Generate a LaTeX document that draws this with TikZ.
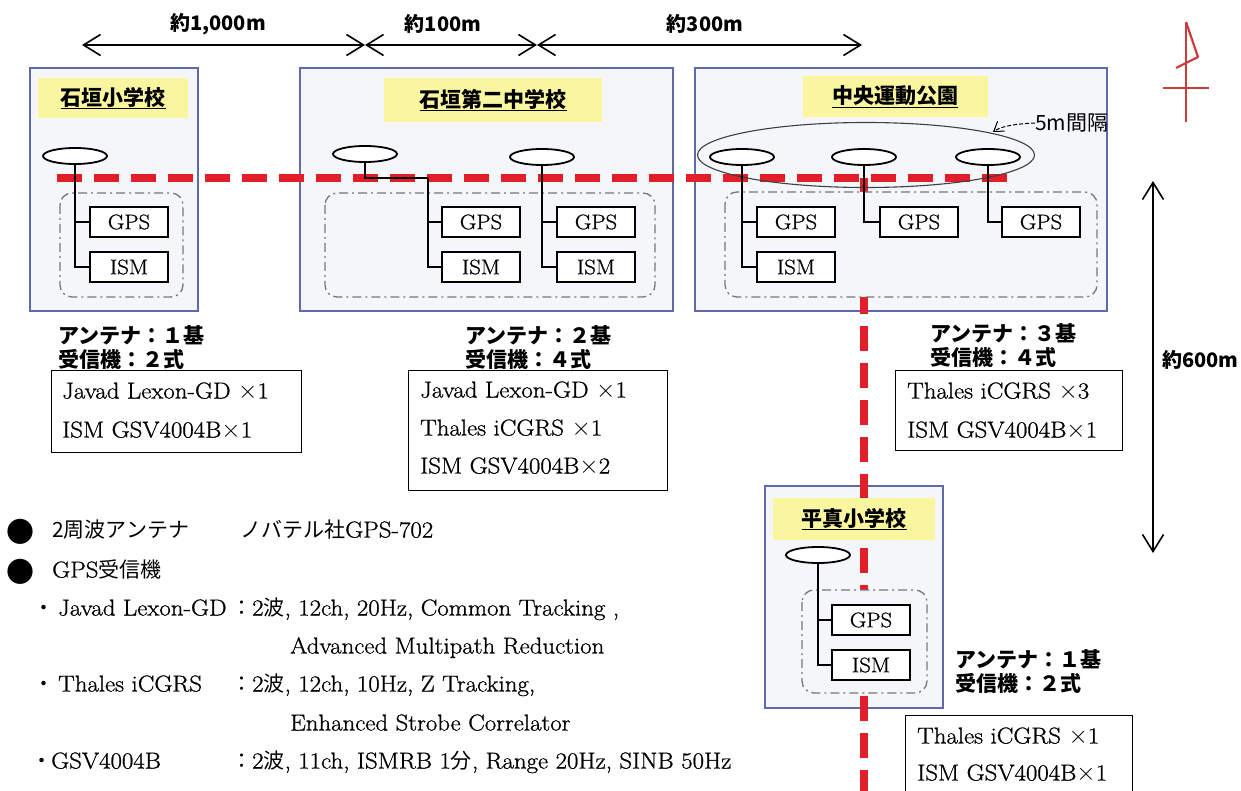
\documentclass[tikz,border=0pt]{standalone}
\usepackage{fontspec}
\setmainfont{Latin Modern Roman}[FakeStretch=1.08,FakeBold=0.9]
\newfontfamily\jp{Noto Sans CJK JP}
\usetikzlibrary{shapes.geometric,arrows.meta}
\definecolor{sitefill}{RGB}{244,246,250}
\definecolor{siteline}{RGB}{96,106,170}
\definecolor{labelyel}{RGB}{250,246,160}
\definecolor{routered}{RGB}{226,30,40}
\definecolor{northred}{RGB}{205,60,60}
\definecolor{ddgray}{RGB}{120,120,120}
\begin{document}
\begin{tikzpicture}[x=1pt,y=-1pt,
  sitebox/.style={draw=siteline,line width=1.4pt,fill=sitefill},
  titlebox/.style={fill=labelyel,inner sep=0pt,font=\jp\bfseries\fontsize{21}{24}\selectfont},
  ddbox/.style={draw=ddgray,line width=1.3pt,dash pattern=on 9pt off 4pt on 2pt off 4pt,rounded corners=12pt,fill=sitefill},
  antenna/.style={ellipse,draw,line width=1.8pt,fill=white,minimum width=64pt,minimum height=16pt,inner sep=0pt},
  rxbox/.style={draw,line width=2pt,fill=white,minimum width=78pt,minimum height=30pt,inner sep=0pt,font=\fontsize{21}{24}\selectfont},
  wire/.style={line width=1.8pt},
  reddash/.style={draw=routered,line width=7.5pt,dash pattern=on 25pt off 12pt},
  distarrow/.style={line width=1.6pt,{Straight Barb[length=17pt,width=21pt]}-{Straight Barb[length=17pt,width=21pt]}},
  distlbl/.style={font=\jp\bfseries\fontsize{20}{24}\selectfont,inner sep=0pt},
  infolbl/.style={font=\jp\bfseries\fontsize{21}{24}\selectfont,align=left,anchor=west,inner sep=0pt},
  tablebox/.style={draw,line width=1pt,fill=white},
  tabletxt/.style={anchor=west,inner sep=0pt,font=\fontsize{23}{26}\selectfont,text height=16pt,text depth=5pt},
  legtxt/.style={anchor=west,inner sep=0pt,font=\fontsize{23}{26}\selectfont,text height=16pt,text depth=5pt},
  legjp/.style={anchor=west,inner sep=0pt,font=\jp\fontsize{21}{26}\selectfont,text height=16pt,text depth=5pt},
  legbullet/.style={inner sep=0pt,font=\jp\fontsize{28}{30}\selectfont},
  northline/.style={draw=northred,line width=2.2pt}
]
\useasboundingbox (0,0) rectangle (1241,791);
\clip (0,0) rectangle (1241,791);
\fill[white] (0,0) rectangle (1241,791);

% site boxes
\draw[sitebox] (30,68) rectangle (198,311);
\draw[sitebox] (300,68) rectangle (673,311);
\draw[sitebox] (695,68) rectangle (1107,311);
\draw[sitebox] (765,486) rectangle (943,708);

% red route
\coordinate (r0) at (57,178);
\coordinate (r1) at (1015,178);
\coordinate (rj) at (864,178);
\coordinate (rb) at (864,800);
\draw[reddash] (r0) -- (r1);
\draw[reddash] (rj) -- (rb);

% titles
\node[titlebox,minimum width=150pt,minimum height=40pt] (t1) at (113,98) {\underline{石垣小学校}};
\node[titlebox,minimum width=218pt,minimum height=44pt] (t2) at (493,100) {\underline{石垣第二中学校}};
\node[titlebox,minimum width=185pt,minimum height=41pt] (t3) at (895,97) {\underline{中央運動公園}};
\node[titlebox,minimum width=162pt,minimum height=42pt] (t4) at (854,519) {\underline{平真小学校}};

% dash-dot groups
\draw[ddbox] (60,193) rectangle (183,297);
\draw[ddbox] (325,193) rectangle (655,297);
\draw[ddbox] (725,192) rectangle (1097,297);
\draw[ddbox] (802,590) rectangle (927,693);

% 5 m group ellipse
\node[ellipse,draw=black!75,line width=1.1pt,minimum width=337pt,minimum height=65pt,inner sep=0pt] (grp) at (866,155) {};
\coordinate (grpe) at (993,132);
\node[font=\jp\fontsize{21}{24}\selectfont,inner sep=0pt,anchor=west] (l5m) at (1035,123) {5m間隔};
\draw[line width=1pt,dash pattern=on 4pt off 2pt,-{Straight Barb[length=9pt,width=12pt]}] (l5m.west) .. controls (1012,124) and (1000,127) .. (grpe);

% antennas
\node[antenna] (a1) at (75,156) {};
\node[antenna] (a2) at (365,154) {};
\node[antenna] (a3) at (542,157) {};
\node[antenna] (a4) at (742,157) {};
\node[antenna] (a5) at (864,157) {};
\node[antenna] (a6) at (988,157) {};
\node[antenna] (a7) at (818,555) {};

% receivers
\node[rxbox] (g1) at (129,222) {GPS};
\node[rxbox] (i1) at (129,267) {ISM};
\node[rxbox] (g2) at (481,222) {GPS};
\node[rxbox] (i2) at (481,267) {ISM};
\node[rxbox] (g3) at (596,222) {GPS};
\node[rxbox] (i3) at (596,267) {ISM};
\node[rxbox] (g4) at (796,222) {GPS};
\node[rxbox] (i4) at (796,267) {ISM};
\node[rxbox] (g5) at (919,222) {GPS};
\node[rxbox] (g6) at (1041,222) {GPS};
\node[rxbox] (g7) at (871,620) {GPS};
\node[rxbox] (i7) at (871,665) {ISM};

% wires
\coordinate (j2) at (428,178);
\draw[wire] (a1.south) |- (g1.west);
\draw[wire] (a1.south) |- (i1.west);
\draw[wire] (a2.south) |- (j2);
\draw[wire] (j2) |- (g2.west);
\draw[wire] (j2) |- (i2.west);
\draw[wire] (a3.south) |- (g3.west);
\draw[wire] (a3.south) |- (i3.west);
\draw[wire] (a4.south) |- (g4.west);
\draw[wire] (a4.south) |- (i4.west);
\draw[wire] (a5.south) |- (g5.west);
\draw[wire] (a6.south) |- (g6.west);
\draw[wire] (a7.south) |- (g7.west);
\draw[wire] (a7.south) |- (i7.west);

% distance arrows
\coordinate (d0) at (82,45);
\coordinate (d1) at (365,45);
\coordinate (d2) at (537,45);
\coordinate (d3) at (862,45);
\draw[distarrow] (d0) -- (d1);
\draw[distarrow] (d1) -- (d2);
\draw[distarrow] (d2) -- (d3);
\node[distlbl] (dl1) at (218,24) {約1,000m};
\node[distlbl] (dl2) at (443,24) {約100m};
\node[distlbl] (dl3) at (705,24) {約300m};
\coordinate (v0) at (1153,181);
\coordinate (v1) at (1153,553);
\draw[distarrow] (v0) -- (v1);
\node[distlbl,anchor=west] (dl4) at (1162,360) {約600m};

% north symbol
\coordinate (n0) at (1186,22);
\coordinate (n1) at (1186,122);
\coordinate (n2) at (1163,88);
\coordinate (n3) at (1209,88);
\coordinate (n4) at (1198,57);
\coordinate (n5) at (1176,68);
\draw[northline] (n0) -- (n1);
\draw[northline] (n2) -- (n3);
\draw[northline,line join=round] (n0) -- (n4) -- (n5);

% info labels
\node[infolbl] (in1) at (58,348) {アンテナ：１基\\受信機：２式};
\node[infolbl] (in2) at (465,348) {アンテナ：２基\\受信機：４式};
\node[infolbl] (in3) at (930,346) {アンテナ：３基\\受信機：４式};
\node[infolbl] (in4) at (955,672) {アンテナ：１基\\受信機：２式};

% tables
\draw[tablebox] (51,370) rectangle (301,452);
\node[tabletxt] (tx11) at (62,393) {Javad Lexon-GD $\times$1};
\node[tabletxt] (tx12) at (62,432) {ISM GSV4004B$\times$1};
\draw[tablebox] (408,370) rectangle (667,490);
\node[tabletxt] (tx21) at (420,392) {Javad Lexon-GD $\times$1};
\node[tabletxt] (tx22) at (420,430) {Thales iCGRS $\times$1};
\node[tabletxt] (tx23) at (420,468) {ISM GSV4004B$\times$2};
\draw[tablebox] (895,370) rectangle (1122,450);
\node[tabletxt] (tx31) at (907,393) {Thales iCGRS $\times$3};
\node[tabletxt] (tx32) at (907,432) {ISM GSV4004B$\times$1};
\draw[tablebox] (905,715) rectangle (1132,800);
\node[tabletxt] (tx41) at (917,738) {Thales iCGRS $\times$1};
\node[tabletxt] (tx42) at (917,775) {ISM GSV4004B$\times$1};

% legend
\node[legbullet] (b1) at (20,532) {●};
\node[legjp] (lg1) at (52,532) {2周波アンテナ};
\node[legtxt] (lg1b) at (240,532) {{\jp\fontsize{21}{26}\selectfont ノバテル社}GPS-702};
\node[legbullet] (b2) at (20,572) {●};
\node[legtxt] (lg2) at (52,572) {GPS{\jp\fontsize{21}{26}\selectfont 受信機}};
\node[legjp,anchor=center] (b3) at (44,610) {・};
\node[legtxt] (lg3) at (58,610) {Javad Lexon-GD};
\node[legtxt] (lg3d) at (231,610) {{\jp\fontsize{21}{26}\selectfont ：}2{\jp\fontsize{21}{26}\selectfont 波}, 12ch, 20Hz, Common Tracking ,};
\node[legtxt] (lg4) at (290,648) {Advanced Multipath Reduction};
\node[legjp,anchor=center] (b5) at (44,686) {・};
\node[legtxt] (lg5) at (58,686) {Thales iCGRS};
\node[legtxt] (lg5d) at (231,686) {{\jp\fontsize{21}{26}\selectfont ：}2{\jp\fontsize{21}{26}\selectfont 波}, 12ch, 10Hz, Z Tracking,};
\node[legtxt] (lg6) at (290,725) {Enhanced Strobe Correlator};
\node[legjp,anchor=center] (b7) at (42,763) {・};
\node[legtxt] (lg7) at (51,763) {GSV4004B};
\node[legtxt] (lg7d) at (231,763) {{\jp\fontsize{21}{26}\selectfont ：}2{\jp\fontsize{21}{26}\selectfont 波}, 11ch, ISMRB 1{\jp\fontsize{21}{26}\selectfont 分}, Range 20Hz, SINB 50Hz};
\end{tikzpicture}
\end{document}
